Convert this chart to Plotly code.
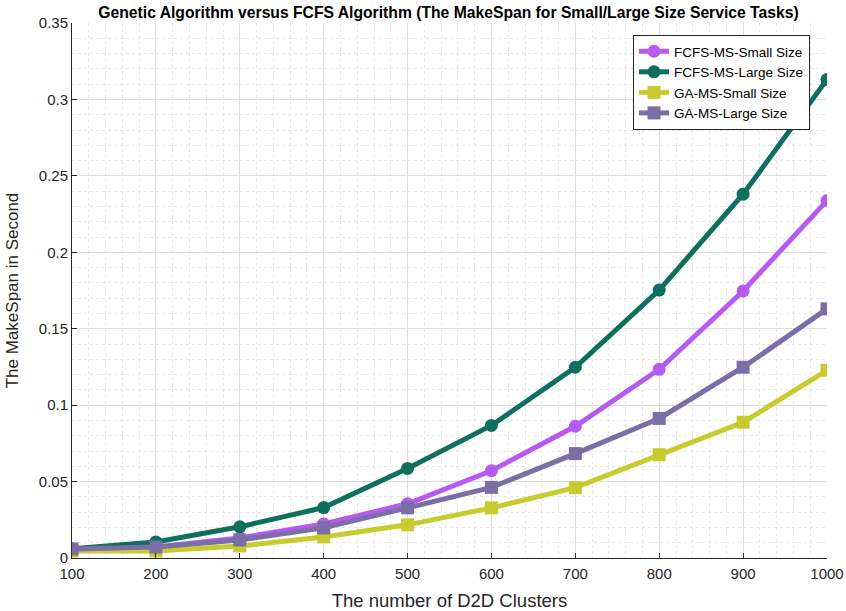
import plotly.graph_objects as go

clusters = [100, 200, 300, 400, 500, 600, 700, 800, 900, 1000]
fcfs_small = [0.0048, 0.0072, 0.0131, 0.0223, 0.0355, 0.0571, 0.0862, 0.1234, 0.1747, 0.2338]
fcfs_large = [0.0060, 0.0105, 0.0204, 0.0330, 0.0586, 0.0867, 0.1248, 0.1753, 0.2380, 0.3130]
ga_small = [0.0046, 0.0046, 0.0079, 0.0138, 0.0217, 0.0328, 0.0460, 0.0676, 0.0888, 0.1228]
ga_large = [0.0059, 0.0072, 0.0118, 0.0197, 0.0328, 0.0462, 0.0683, 0.0913, 0.1248, 0.1630]

series = [
    ("FCFS-MS-Small Size", fcfs_small, "#b65af2", "circle"),
    ("FCFS-MS-Large Size", fcfs_large, "#0e6f5c", "circle"),
    ("GA-MS-Small Size", ga_small, "#c8cb2e", "square"),
    ("GA-MS-Large Size", ga_large, "#7b6da6", "square"),
]

FONT = "Liberation Sans, Arial"

fig = go.Figure()
for name, vals, color, sym in series:
    fig.add_trace(go.Scatter(
        x=clusters, y=vals, name=name, mode="lines+markers",
        line=dict(color=color, width=5),
        marker=dict(symbol=sym, size=13, color=color),
    ))

axis_common = dict(
    showline=True, linecolor="#262626", linewidth=1, mirror=False,
    ticks="inside", ticklen=5, tickcolor="#262626",
    gridcolor="#dedede", gridwidth=1,
    tickfont=dict(family=FONT, size=15, color="#262626"),
    zeroline=False, automargin=False,
    minor=dict(showgrid=True, gridcolor="#e6e6e6", griddash="dot", gridwidth=1),
)

fig.update_layout(
    width=846, height=611,
    paper_bgcolor="white", plot_bgcolor="white",
    margin=dict(l=72, r=19, t=23, b=53),
    title=dict(text="<b>Genetic Algorithm versus FCFS Algorithm (The MakeSpan for Small/Large Size Service Tasks)</b>",
               x=0.4987, xref="paper", xanchor="center", y=0.980, yanchor="middle",
               font=dict(family=FONT, size=15.7, color="black")),
    xaxis=dict(range=[100, 1000], dtick=100, tick0=100, ticklabelstandoff=2,
               title=dict(text="The number of D2D Clusters",
                          font=dict(family=FONT, size=18.5, color="#262626")),
               **axis_common),
    yaxis=dict(range=[0, 0.35], dtick=0.05, tick0=0,
               title=dict(text="The MakeSpan in Second",
                          font=dict(family=FONT, size=17, color="#262626")),
               **axis_common),
    legend=dict(x=0.9775, y=0.9776, xanchor="right", yanchor="top",
                bgcolor="white", bordercolor="#262626", borderwidth=1,
                font=dict(family=FONT, size=13.5, color="black"),
                tracegroupgap=0, itemwidth=30),
    showlegend=True,
)
fig.update_xaxes(minor=dict(dtick=20))
fig.update_yaxes(minor=dict(dtick=0.01))

fig.write_html("out.html", config={"displayModeBar": False},
               post_script="document.body.style.margin='0px';")
